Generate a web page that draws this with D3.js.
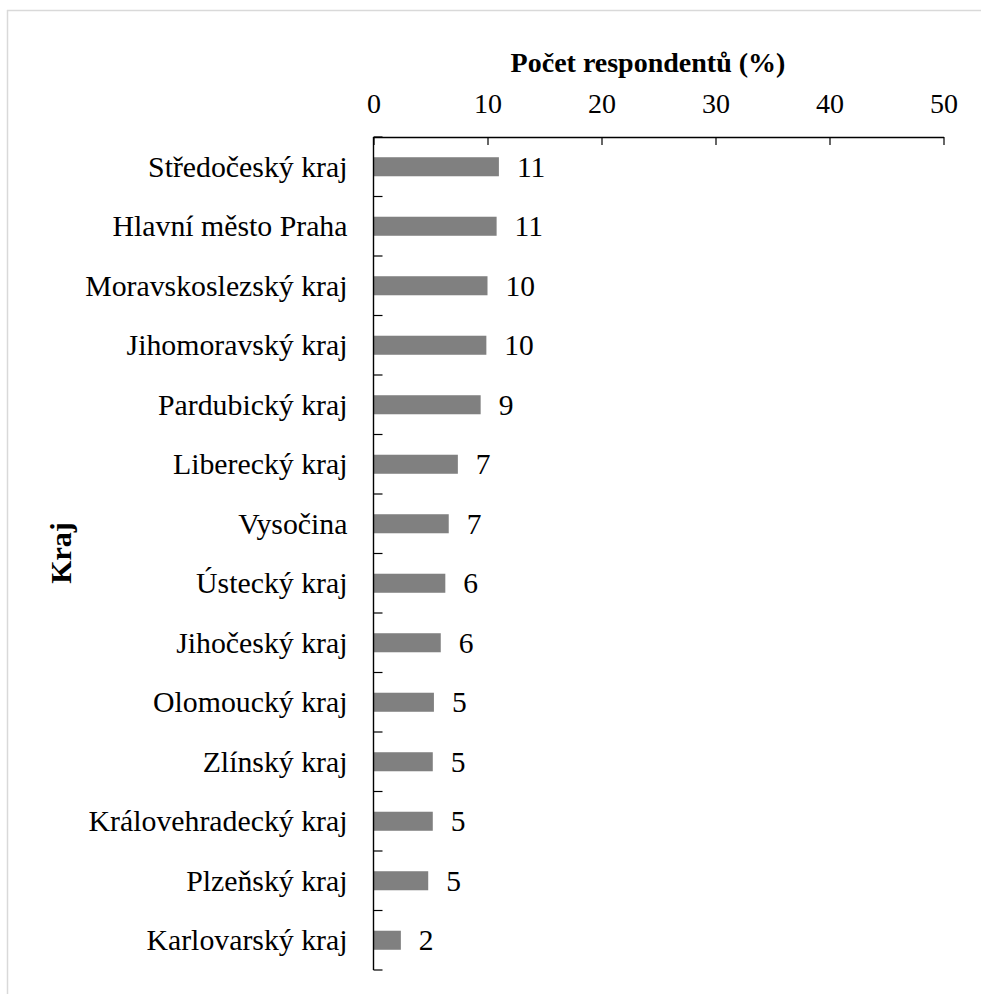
<!DOCTYPE html>
<html>
<head>
<meta charset="utf-8">
<script src="https://cdn.jsdelivr.net/npm/d3@7"></script>
<style>
  html, body { margin: 0; padding: 0; background: #fff; }
  svg { display: block; }
  text { font-family: "Liberation Serif", "Times New Roman", serif; fill: #000; }
</style>
</head>
<body>
<script>
// Regions of the Czech Republic, top to bottom
const regions = [
  "Středočeský kraj", "Hlavní město Praha", "Moravskoslezský kraj", "Jihomoravský kraj",
  "Pardubický kraj", "Liberecký kraj", "Vysočina", "Ústecký kraj", "Jihočeský kraj",
  "Olomoucký kraj", "Zlínský kraj", "Královehradecký kraj", "Plzeňský kraj", "Karlovarský kraj"
];
// Share of respondents per region (%)
const shares = [11.0, 10.8, 10.0, 9.9, 9.4, 7.4, 6.6, 6.3, 5.9, 5.3, 5.2, 5.2, 4.8, 2.4];
const xTicks = [0, 10, 20, 30, 40, 50];
const xTitle = "Počet respondentů (%)";
const yTitle = "Kraj";

const W = 981, H = 994;
const svg = d3.select("body").append("svg").attr("width", W).attr("height", H);

// outer frame (top and left edges)
svg.append("line").attr("x1", 7).attr("x2", W).attr("y1", 10.5).attr("y2", 10.5)
  .attr("stroke", "#d9d9d9").attr("stroke-width", 1.5);
svg.append("line").attr("x1", 7.5).attr("x2", 7.5).attr("y1", 10).attr("y2", H)
  .attr("stroke", "#d9d9d9").attr("stroke-width", 1.5);

const plotLeft = 373.5, plotRight = 943.5, plotTop = 137, plotBottom = 970;

const x = d3.scaleLinear().domain([0, 50]).range([plotLeft, plotRight]);
const y = d3.scaleBand().domain(regions).range([plotTop, plotBottom]).paddingInner(0.68).paddingOuter(0.34);

// bars
svg.append("g").selectAll("rect").data(regions).join("rect")
  .attr("x", x(0))
  .attr("y", d => y(d))
  .attr("width", (d, i) => x(shares[i]) - x(0))
  .attr("height", y.bandwidth())
  .attr("fill", "#808080");

// value labels
svg.append("g").selectAll("text").data(regions).join("text")
  .attr("x", (d, i) => x(shares[i]) + 18)
  .attr("y", d => y(d) + y.bandwidth() / 2)
  .attr("dy", "0.34em")
  .style("font-size", "29.5px")
  .text((d, i) => Math.round(shares[i]));

// top value axis, ticks pointing down into the plot
const xAxis = svg.append("g").attr("transform", `translate(0,${plotTop})`)
  .call(d3.axisTop(x).tickValues(xTicks).tickSizeInner(-8).tickSizeOuter(0).tickPadding(24));
xAxis.select(".domain").attr("stroke", "#000").attr("stroke-width", 1.4);
xAxis.selectAll(".tick line").attr("stroke", "#000").attr("stroke-width", 1.2);
xAxis.selectAll(".tick text").style("font-size", "28px");

// category axis: labels centred on bands, ticks on band boundaries
const yAxis = svg.append("g").attr("transform", `translate(${plotLeft},0)`)
  .call(d3.axisLeft(y).tickSize(0).tickPadding(26));
yAxis.select(".domain").remove();
yAxis.selectAll(".tick text").style("font-size", "29.8px").attr("dy", "0.34em");

svg.append("line").attr("x1", plotLeft).attr("x2", plotLeft).attr("y1", plotTop).attr("y2", plotBottom)
  .attr("stroke", "#000").attr("stroke-width", 1.4);
svg.append("g").selectAll("line").data(d3.range(regions.length + 1)).join("line")
  .attr("x1", plotLeft).attr("x2", plotLeft + 9)
  .attr("y1", i => plotTop + i * y.step())
  .attr("y2", i => plotTop + i * y.step())
  .attr("stroke", "#000").attr("stroke-width", 1.2);

// axis titles
svg.append("text").attr("x", 648).attr("y", 72)
  .attr("text-anchor", "middle").style("font-size", "28px").attr("font-weight", "bold")
  .text(xTitle);
svg.append("text").attr("transform", "translate(71,553) rotate(-90)")
  .attr("text-anchor", "middle").style("font-size", "30px").attr("font-weight", "bold")
  .text(yTitle);
</script>
</body>
</html>
